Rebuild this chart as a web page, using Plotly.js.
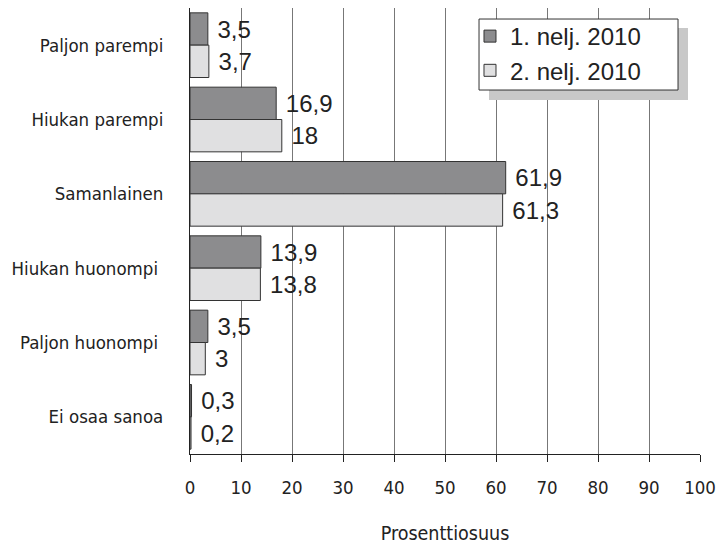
<!DOCTYPE html>
<html>
<head>
<meta charset="utf-8">
<script src="https://cdn.plot.ly/plotly-3.0.1.min.js"></script>
<style>html,body{margin:0;padding:0;background:#fff;}#chart{width:716px;height:545px;}</style>
</head>
<body>
<div id="chart"></div>
<script>
const categories = ["Paljon parempi", "Hiukan parempi", "Samanlainen", "Hiukan huonompi ", "Paljon huonompi ", "Ei osaa sanoa"];
const seriesNames = ["1. nelj. 2010", "2. nelj. 2010"];
const q1Values = [3.5, 16.9, 61.9, 13.9, 3.5, 0.3];
const q2Values = [3.7, 18, 61.3, 13.8, 3, 0.2];
const xTicks = [0, 10, 20, 30, 40, 50, 60, 70, 80, 90, 100];

const condensed = '"DejaVu Sans Condensed", "Liberation Sans Narrow", Roboto, sans-serif';
const arial = '"Liberation Sans", Arial, sans-serif';

function fmt(v){ return ' ' + String(v).replace('.', ','); }

const traces = [
  {type:'bar', orientation:'h', name:seriesNames[0], y:categories, x:q1Values,
   text:q1Values.map(fmt), textposition:'outside', cliponaxis:false,
   textfont:{family:arial, size:24, color:'#222'},
   marker:{color:'#8c8c8e', line:{color:'#333', width:1}}},
  {type:'bar', orientation:'h', name:seriesNames[1], y:categories, x:q2Values,
   text:q2Values.map(fmt), textposition:'outside', cliponaxis:false,
   textfont:{family:arial, size:24, color:'#222'},
   marker:{color:'#e0e0e1', line:{color:'#333', width:1}}}
];

const layout = {
  width:716, height:545,
  margin:{l:190, r:16, t:8, b:91},
  paper_bgcolor:'#fff', plot_bgcolor:'#fff',
  barmode:'group', bargap:0.13, bargroupgap:0,
  showlegend:true,
  legend:{x:0.549, y:0.9865, xanchor:'left', yanchor:'top',
    bgcolor:'rgba(0,0,0,0)', borderwidth:0, itemwidth:30,
    font:{family:arial, size:24, color:'#222'}, tracegroupgap:0},
  xaxis:{range:[0,100], tickvals:xTicks, ticktext:xTicks.map(String),
    showgrid:true, gridcolor:'#777', gridwidth:1, zeroline:false,
    showline:true, linecolor:'#222', linewidth:1,
    ticks:'outside', ticklen:7, tickcolor:'#222', ticklabelstandoff:10,
    tickfont:{family:condensed, size:18.5, color:'#222'},
    automargin:false,
    title:{text:'Prosenttiosuus', font:{family:condensed, size:19.5, color:'#222'}, standoff:30}},
  yaxis:{categoryorder:'array', categoryarray:categories, autorange:'reversed',
    showline:true, linecolor:'#222', linewidth:1, showgrid:false, zeroline:false,
    ticks:'', ticklabelstandoff:22, automargin:false,
    tickfont:{family:condensed, size:18.5, color:'#222'}},
  shapes:[
    {type:'rect', xref:'paper', yref:'paper', layer:'above',
     x0:0.5863, x1:0.9765, y0:0.7937, y1:0.9552,
     fillcolor:'#c8c8c8', line:{width:0}},
    {type:'rect', xref:'paper', yref:'paper', layer:'above',
     x0:0.5667, x1:0.9569, y0:0.8161, y1:0.9753,
     fillcolor:'#ffffff', line:{color:'#333', width:1}}
  ]
};

Plotly.newPlot('chart', traces, layout, {displayModeBar:false, staticPlot:true});
</script>
</body>
</html>
